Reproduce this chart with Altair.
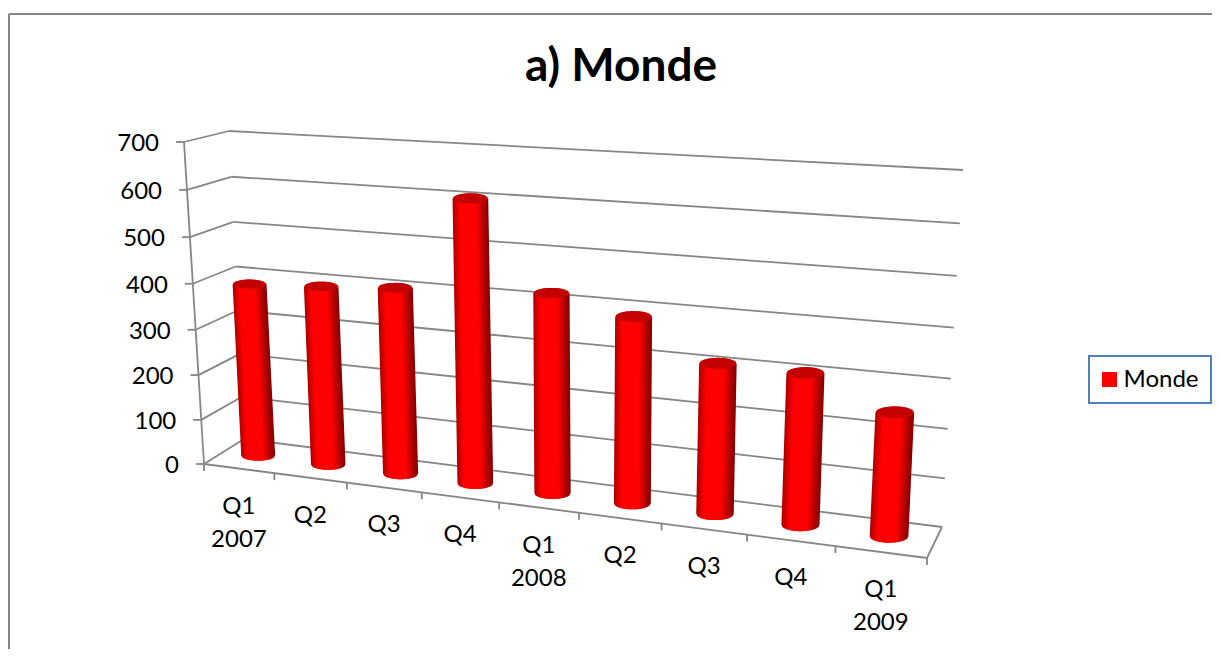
import altair as alt
import numpy as np
import pandas as pd

# ---- values
quarters = ["Q1", "Q2", "Q3", "Q4", "Q1", "Q2", "Q3", "Q4", "Q1"]
years = ["2007", "", "", "", "2008", "", "", "", "2009"]
monde = [387, 396, 407, 605, 424, 391, 312, 310, 250]
value_ticks = [0, 100, 200, 300, 400, 500, 600, 700]
series_name = "Monde"
chart_title = "a) Monde"

# ---- perspective of the 3D box (unit square -> screen corners)
N_CAT, V_MAX = 9, 700
FRONT = [(204, 464), (927, 558), (945, 187), (184, 142)]
BACK = [(244, 439), (942, 527), (963, 170), (229, 131)]
FONT = "Lato"
GRID = "#868686"


def homography(corners):
    src = [(0, 0), (1, 0), (1, 1), (0, 1)]
    A, b = [], []
    for (s, t), (px, py) in zip(src, corners):
        A.append([s, t, 1, 0, 0, 0, -s * px, -t * px])
        A.append([0, 0, 0, s, t, 1, -s * py, -t * py])
        b += [px, py]
    return np.append(np.linalg.solve(np.array(A, float), np.array(b, float)), 1).reshape(3, 3)


H_F, H_B = homography(FRONT), homography(BACK)


def project(u, v, d):
    p = np.array([u / N_CAT, v / V_MAX, 1.0])
    f = H_F @ p
    g = H_B @ p
    f, g = f[:2] / f[2], g[:2] / g[2]
    return (1 - d) * f + d * g


xs = alt.Scale(domain=[8, 1212], range=[0, 1204], nice=False, zero=False)
ys = alt.Scale(domain=[649, 8], range=[641, 0], nice=False, zero=False)
X = lambda f: alt.X(f, type="quantitative", scale=xs, axis=None)
Y = lambda f: alt.Y(f, type="quantitative", scale=ys, axis=None)


def seg(a, b, **extra):
    return dict(x=float(a[0]), y=float(a[1]), x2=float(b[0]), y2=float(b[1]), **extra)


# ---- box lines
lines = []
for v in value_ticks:
    lines.append(seg(project(0, v, 0), project(0, v, 1)))
    lines.append(seg(project(0, v, 1), project(N_CAT, v, 1)))
lines.append(seg(project(0, 0, 0), project(0, V_MAX, 0)))
lines.append(seg(project(0, 0, 0), project(N_CAT, 0, 0)))
lines.append(seg(project(N_CAT, 0, 0), project(N_CAT, 0, 1)))
for v in value_ticks:
    p = project(0, v, 0)
    lines.append(seg(p, p + np.array([-8, 0])))
for i in range(N_CAT + 1):
    p = project(i, 0, 0)
    lines.append(seg(p, p + np.array([0, 7])))
lines_df = pd.DataFrame(lines)

val_lab = pd.DataFrame(
    [dict(x=float(project(0, v, 0)[0] - 25), y=float(project(0, v, 0)[1] + 2), t=str(v)) for v in value_ticks]
)
cat_lab = pd.DataFrame(
    [
        dict(x=float(project(i + 0.5, 0, 0)[0]), y=float(project(i + 0.5, 0, 0)[1] + 38), t=q, yr=yr)
        for i, (q, yr) in enumerate(zip(quarters, years))
    ]
)

# ---- cylinders, each one a fan of shaded vertical slices
body, cap, anchor = [], [], []
for i, val in enumerate(monde):
    base = project(i + 0.5, 0, 0.5)
    top = project(i + 0.5, val, 0.5)
    hx = 16.2 + 0.3 * i
    ry_top = 4.6 + 0.15 * i
    ry_bot = 4.8 + 0.15 * i
    n = int(3 * hx) + 1
    for s in np.linspace(-1, 1, n):
        c = np.sqrt(max(1 - s * s, 0))
        body.append(
            seg((base[0] + hx * s, base[1] + ry_bot * c), (top[0] + hx * s, top[1] + ry_top * c), shade=float(s))
        )
        cap.append(seg((top[0] + hx * s, top[1] - ry_top * c), (top[0] + hx * s, top[1] + ry_top * c)))
    anchor.append(dict(x=float((base[0] + top[0]) / 2), y=float((base[1] + top[1]) / 2), series=series_name))
body_df, cap_df, anchor_df = pd.DataFrame(body), pd.DataFrame(cap), pd.DataFrame(anchor)

line_layer = alt.Chart(lines_df).mark_rule(color=GRID, strokeWidth=1.8).encode(
    x=X("x"), y=Y("y"), x2="x2:Q", y2="y2:Q"
)
anchor_layer = alt.Chart(anchor_df).mark_point(filled=True, shape="square", size=100, opacity=1).encode(
    x=X("x"),
    y=Y("y"),
    color=alt.Color(
        "series:N",
        scale=alt.Scale(domain=[series_name], range=["#ff0000"]),
        legend=alt.Legend(
            title=None,
            orient="none",
            legendX=1081,
            legendY=348,
            padding=11.5,
            fillColor="white",
            strokeColor="#4f81bd",
            symbolType="square",
            symbolSize=225,
            symbolStrokeWidth=0,
            symbolOffset=-3,
            labelFont=FONT,
            labelFontSize=24,
            labelColor="black",
            labelOffset=2,
        ),
    ),
)
body_layer = alt.Chart(body_df).mark_rule(strokeWidth=1.5).encode(
    x=X("x"),
    y=Y("y"),
    x2="x2:Q",
    y2="y2:Q",
    color=alt.Color(
        "shade:Q",
        scale=alt.Scale(domain=[-1, -0.6, 0.35, 1], range=["#b00000", "#ff0000", "#ff0000", "#8a0000"]),
        legend=None,
    ),
)
cap_layer = alt.Chart(cap_df).mark_rule(strokeWidth=1.5, color="#c40000").encode(
    x=X("x"), y=Y("y"), x2="x2:Q", y2="y2:Q"
)
val_text = alt.Chart(val_lab).mark_text(font=FONT, fontSize=24, align="right", baseline="middle", color="black").encode(
    x=X("x"), y=Y("y"), text="t:N"
)
cat_text = alt.Chart(cat_lab).mark_text(font=FONT, fontSize=24, align="center", baseline="middle", color="black").encode(
    x=X("x"), y=Y("y"), text="t:N"
)
yr_text = alt.Chart(cat_lab).mark_text(font=FONT, fontSize=24, align="center", baseline="middle", color="black", dy=33).encode(
    x=X("x"), y=Y("y"), text="yr:N"
)
frame_top = alt.Chart(anchor_df.head(1)).mark_rule(color=GRID, strokeWidth=2).encode(
    x=alt.value(1), x2=alt.value(1204), y=alt.value(6)
)
frame_left = alt.Chart(anchor_df.head(1)).mark_rule(color=GRID, strokeWidth=2).encode(
    x=alt.value(1), y=alt.value(6), y2=alt.value(641)
)

chart = (
    alt.layer(
        frame_top, frame_left, line_layer, anchor_layer, body_layer, cap_layer, val_text, cat_text, yr_text
    )
    .resolve_scale(color="independent")
    .properties(
        width=1204,
        height=641,
        padding=0,
        autosize=alt.AutoSizeParams(type="none"),
        title=alt.TitleParams(
            chart_title, font=FONT, fontSize=46, fontWeight="bold", color="black",
            anchor="middle", frame="group", dx=11, dy=83, offset=0,
        ),
    )
    .configure_view(stroke=None)
    .configure_legend(strokeWidth=2, cornerRadius=0)
)
chart.save("out.html", embed_options={"renderer": "svg", "actions": False})
